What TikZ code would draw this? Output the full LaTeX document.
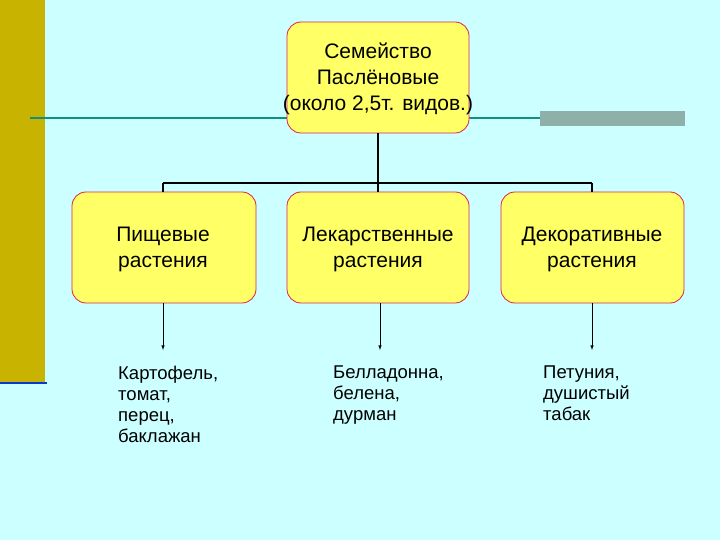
\documentclass[tikz,border=0pt]{standalone}
\usepackage{fontspec}
\setmainfont{Liberation Sans}
\definecolor{bg}{HTML}{CCFFFF}
\definecolor{bar}{HTML}{C8B400}
\definecolor{boxf}{HTML}{FFFF66}
\definecolor{boxd}{HTML}{E0204A}
\definecolor{teal}{HTML}{109080}
\definecolor{grayb}{HTML}{8FB0A8}
\begin{document}
\begin{tikzpicture}[x=1pt,y=-1pt,
  box/.style={draw=boxd,fill=boxf,rounded corners=14pt,line width=0.8pt},
  lbl/.style={font=\fontsize{21}{26}\selectfont,align=center},
  lst/.style={font=\fontsize{18.5}{21}\selectfont,align=left,anchor=north west,inner sep=0pt},
  conn/.style={line width=1.5pt},
  arr/.style={-latex,line width=0.6pt}]
\fill[bg] (0,0) rectangle (720,540);
\useasboundingbox (0,0) rectangle (720,540);
\fill[bar] (0,0) rectangle (45,383);
\draw[line width=2pt,blue!60!teal] (0,383) -- (47,383);
\draw[teal,line width=2pt] (30,118) -- (685,118);
\fill[grayb] (540,111) rectangle (685,126);
\draw[box] (287,22) rectangle (469,133);
\node[lbl] (top) at (378,79) {Семейство\\ Паслёновые\\(около 2,5т. видов.)};
\draw[box] (72,192) rectangle (256,303);
\draw[box] (287,192) rectangle (469,303);
\draw[box] (501,192) rectangle (684,303);
\node[lbl] (a) at (163,249) {Пищевые\\растения};
\node[lbl] (b) at (378,249) {Лекарственные\\растения};
\node[lbl] (c) at (592,249) {Декоративные\\растения};
\coordinate (tb) at (378,133);
\coordinate (hj) at (378,183);
\coordinate (h1) at (163,183);
\coordinate (h3) at (592,183);
\coordinate (ab) at (163,192);
\coordinate (cb) at (592,192);
\coordinate (bb) at (378,192);
\draw[conn] (tb) -- (hj);
\draw[conn] (h1) -- (h3);
\draw[conn] (h1) -- (ab);
\draw[conn] (hj) -- (bb);
\draw[conn] (h3) -- (cb);
\coordinate (a1) at (163,303); \coordinate (a2) at (163,350);
\coordinate (b1) at (380,303); \coordinate (b2) at (380,350);
\coordinate (c1) at (592,303); \coordinate (c2) at (592,350);
\draw[arr] (a1) -- (a2);
\draw[arr] (b1) -- (b2);
\draw[arr] (c1) -- (c2);
\node[lst] (la) at (118,366) {Картофель,\\томат,\\перец,\\баклажан};
\node[lst] (lb) at (333,366) {Белладонна,\\белена,\\дурман};
\node[lst] (lc) at (543,366) {Петуния,\\душистый\\табак};
\end{tikzpicture}
\end{document}
